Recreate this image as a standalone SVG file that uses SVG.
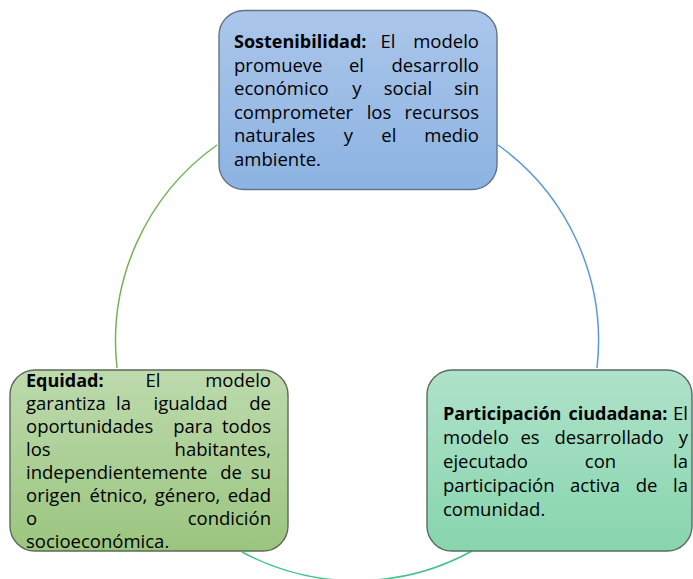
<svg xmlns="http://www.w3.org/2000/svg" width="693" height="579" viewBox="0 0 693 579">
<defs>
<linearGradient id="gBlue" x1="0" y1="0" x2="0" y2="1"><stop offset="0" stop-color="#abc6ea"/><stop offset="1" stop-color="#8cb3e2"/></linearGradient>
<linearGradient id="gGreen" x1="0" y1="0" x2="0" y2="1"><stop offset="0" stop-color="#bddaad"/><stop offset="1" stop-color="#9bc57f"/></linearGradient>
<linearGradient id="gTeal" x1="0" y1="0" x2="0" y2="1"><stop offset="0" stop-color="#afe2ca"/><stop offset="1" stop-color="#87d5ad"/></linearGradient>
<style>
.t{font-family:"Open Sans","Noto Sans","Liberation Sans",sans-serif;font-size:18.5px;fill:#000}
.b{font-weight:700;font-size:18px}
.e{text-anchor:end}
.m{text-anchor:middle}
.box{stroke-width:1.4}
.arc{fill:none;stroke-width:1.5}
</style>
</defs>
<rect width="693" height="579" fill="#ffffff"/>
<g id="connectors">
<path class="arc" d="M217,145 A241,241 0 0 0 117,368" stroke="#75b354"/>
<path class="arc" d="M498,145 A241,241 0 0 1 597,368" stroke="#5b9bd5"/>
<path class="arc" d="M242,552 A241,241 0 0 0 472,551" stroke="#3ec486"/>
</g>
<g id="node-sostenibilidad">
<rect class="box" x="219" y="10.5" width="278" height="179" rx="25" fill="url(#gBlue)" stroke="#637488"/>
<text class="t b" x="234" y="48">Sostenibilidad:</text>
<text class="t m" x="388" y="48">El</text>
<text class="t e" x="479" y="48">modelo</text>
<text class="t" x="234" y="71.5">promueve</text>
<text class="t m" x="356.5" y="71.5">el</text>
<text class="t e" x="479" y="71.5">desarrollo</text>
<text class="t" x="234" y="95">económico</text>
<text class="t m" x="357" y="95">y</text>
<text class="t m" x="408" y="95">social</text>
<text class="t e" x="479" y="95">sin</text>
<text class="t" x="234" y="118.5">comprometer</text>
<text class="t m" x="379" y="118.5">los</text>
<text class="t e" x="479" y="118.5">recursos</text>
<text class="t" x="234" y="142">naturales</text>
<text class="t m" x="348.5" y="142">y</text>
<text class="t m" x="388.8" y="142">el</text>
<text class="t e" x="479" y="142">medio</text>
<text class="t" x="234" y="165.5">ambiente.</text>
</g>
<g id="node-equidad">
<rect class="box" x="10" y="370" width="278" height="181" rx="25" fill="url(#gGreen)" stroke="#5c6a58"/>
<text class="t b" x="26" y="386.5">Equidad:</text>
<text class="t m" x="153" y="386.5">El</text>
<text class="t e" x="271" y="386.5">modelo</text>
<text class="t" x="26" y="409.6">garantiza</text>
<text class="t m" x="123.5" y="409.6">la</text>
<text class="t m" x="190.5" y="409.6">igualdad</text>
<text class="t e" x="271" y="409.6">de</text>
<text class="t" x="26" y="432.7">oportunidades</text>
<text class="t m" x="193" y="432.7">para</text>
<text class="t e" x="271" y="432.7">todos</text>
<text class="t" x="26" y="455.8">los</text>
<text class="t e" x="271" y="455.8">habitantes,</text>
<text class="t" x="26" y="478.9">independientemente</text>
<text class="t m" x="231" y="478.9">de</text>
<text class="t e" x="271" y="478.9">su</text>
<text class="t" x="26" y="502">origen</text>
<text class="t m" x="118.5" y="502">étnico,</text>
<text class="t m" x="187.6" y="502">género,</text>
<text class="t e" x="271" y="502">edad</text>
<text class="t" x="26" y="525.1">o</text>
<text class="t e" x="271" y="525.1">condición</text>
<text class="t" x="26" y="548.2">socioeconómica.</text>
</g>
<g id="node-participacion">
<rect class="box" x="427" y="370" width="265" height="181" rx="25" fill="url(#gTeal)" stroke="#5a6a62"/>
<text class="t b" x="443" y="419.5">Participación</text>
<text class="t b m" x="618" y="419.5">ciudadana:</text>
<text class="t e" x="688" y="419.5">El</text>
<text class="t" x="443" y="443.5">modelo</text>
<text class="t m" x="530" y="443.5">es</text>
<text class="t m" x="609" y="443.5">desarrollado</text>
<text class="t e" x="688" y="443.5">y</text>
<text class="t" x="443" y="467.5">ejecutado</text>
<text class="t m" x="600.5" y="467.5">con</text>
<text class="t e" x="688" y="467.5">la</text>
<text class="t" x="443" y="491.5">participación</text>
<text class="t m" x="595" y="491.5">activa</text>
<text class="t m" x="646.5" y="491.5">de</text>
<text class="t e" x="688" y="491.5">la</text>
<text class="t" x="443" y="515.5">comunidad.</text>
</g>
</svg>
